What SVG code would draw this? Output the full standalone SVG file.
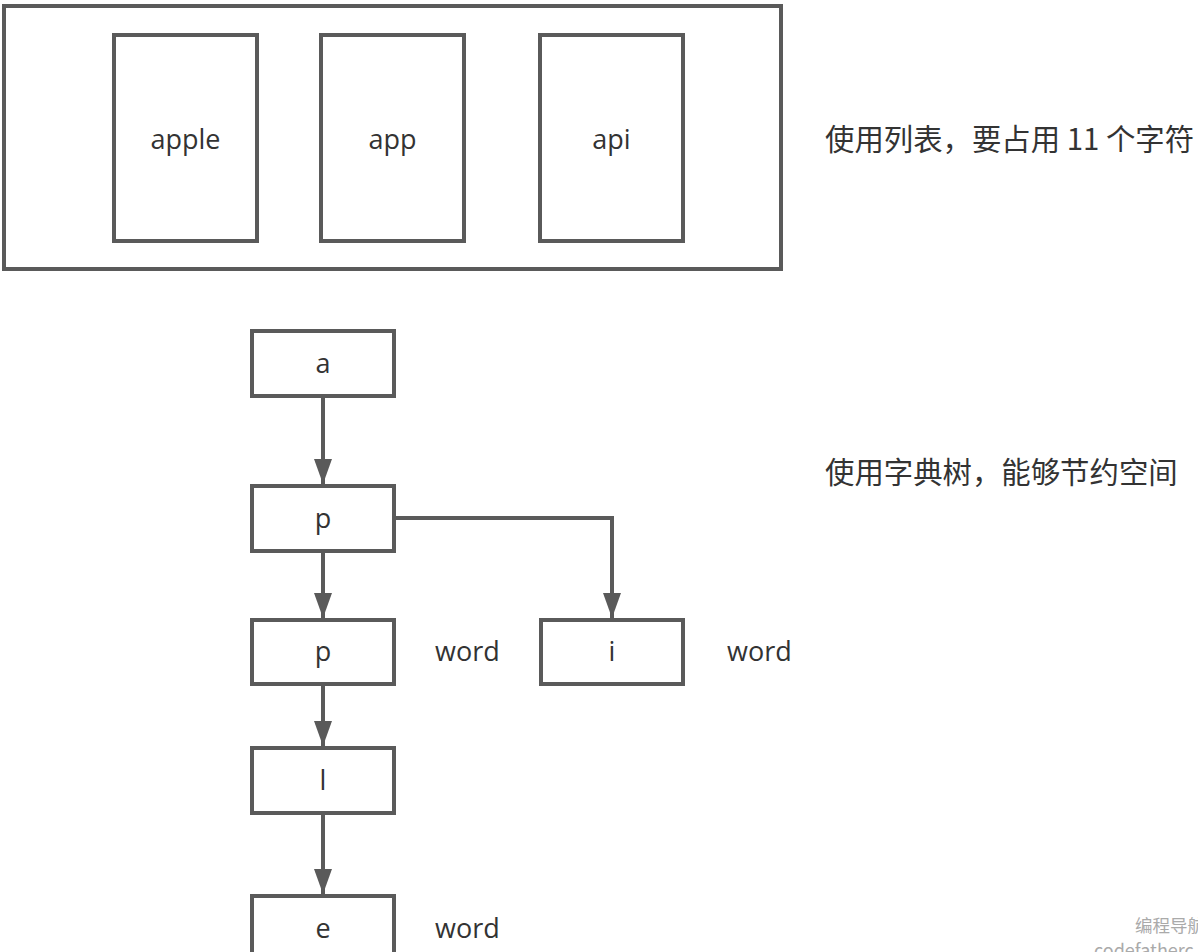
<svg xmlns="http://www.w3.org/2000/svg" width="1198" height="952" viewBox="0 0 1198 952">
<style>
.box{fill:#fff;stroke:#5a5a5a;stroke-width:4}
.t{font-family:"Open Sans","Noto Sans","Noto Sans CJK SC",sans-serif;font-size:27px;fill:#333;text-anchor:middle;dominant-baseline:central}
.cn{font-family:"Noto Sans CJK SC","Noto Sans",sans-serif;font-size:29.4px;fill:#333}
.lbl{font-family:"Open Sans","Noto Sans",sans-serif;font-size:27px;fill:#333;dominant-baseline:central}
.edge{fill:none;stroke:#5a5a5a;stroke-width:4}
.wm{font-family:"Noto Sans CJK SC","Noto Sans",sans-serif;fill:#aaa}
</style>
<defs>
<marker id="ah" viewBox="0 0 25 18" refX="25" refY="9" markerUnits="userSpaceOnUse" markerWidth="25" markerHeight="18" orient="auto">
<path d="M0,0 L25,9 L0,18 Z" fill="#5a5a5a"/>
</marker>
</defs>
<rect width="1198" height="952" fill="#fff"/>
<g id="list">
<rect class="box" x="4" y="6" width="777" height="263"/>
<g id="list-apple"><rect class="box" x="114" y="35" width="143" height="206"/><text class="t" x="185.5" y="138">apple</text></g>
<g id="list-app"><rect class="box" x="321" y="35" width="143" height="206"/><text class="t" x="392.5" y="138">app</text></g>
<g id="list-api"><rect class="box" x="540" y="35" width="143" height="206"/><text class="t" x="611.5" y="138">api</text></g>
</g>
<g id="note-list"><text class="cn" x="825" y="150">使用列表，要占用 11 个字符</text></g>
<g id="note-trie"><text class="cn" x="825" y="483">使用字典树，能够节约空间</text></g>
<g id="connectors">
<line class="edge" x1="323" y1="397" x2="323" y2="484" marker-end="url(#ah)"/>
<line class="edge" x1="323" y1="552" x2="323" y2="618" marker-end="url(#ah)"/>
<line class="edge" x1="323" y1="685" x2="323" y2="746" marker-end="url(#ah)"/>
<line class="edge" x1="323" y1="814" x2="323" y2="894" marker-end="url(#ah)"/>
<path class="edge" d="M396,518 H612 V618" marker-end="url(#ah)"/>
</g>
<g id="node-a"><rect class="box" x="252" y="331" width="142" height="65"/><text class="t" x="323" y="362">a</text></g>
<g id="node-p1"><rect class="box" x="252" y="486" width="142" height="65"/><text class="t" x="323" y="517">p</text></g>
<g id="node-p2"><rect class="box" x="252" y="620" width="142" height="64"/><text class="t" x="323" y="650">p</text><text class="lbl" x="435" y="650">word</text></g>
<g id="node-i"><rect class="box" x="541" y="620" width="142" height="64"/><text class="t" x="612" y="650">i</text><text class="lbl" x="727" y="650">word</text></g>
<g id="node-l"><rect class="box" x="252" y="748" width="142" height="65"/><text class="t" x="323" y="779">l</text></g>
<g id="node-e"><rect class="box" x="252" y="896" width="142" height="70"/><text class="t" x="323" y="927">e</text><text class="lbl" x="435" y="927">word</text></g>
<g id="watermark">
<text class="wm" x="1135" y="932" font-size="17.5">编程导航</text>
<text class="wm" x="1094" y="957" font-size="18">codefatherc</text>
</g>
</svg>
